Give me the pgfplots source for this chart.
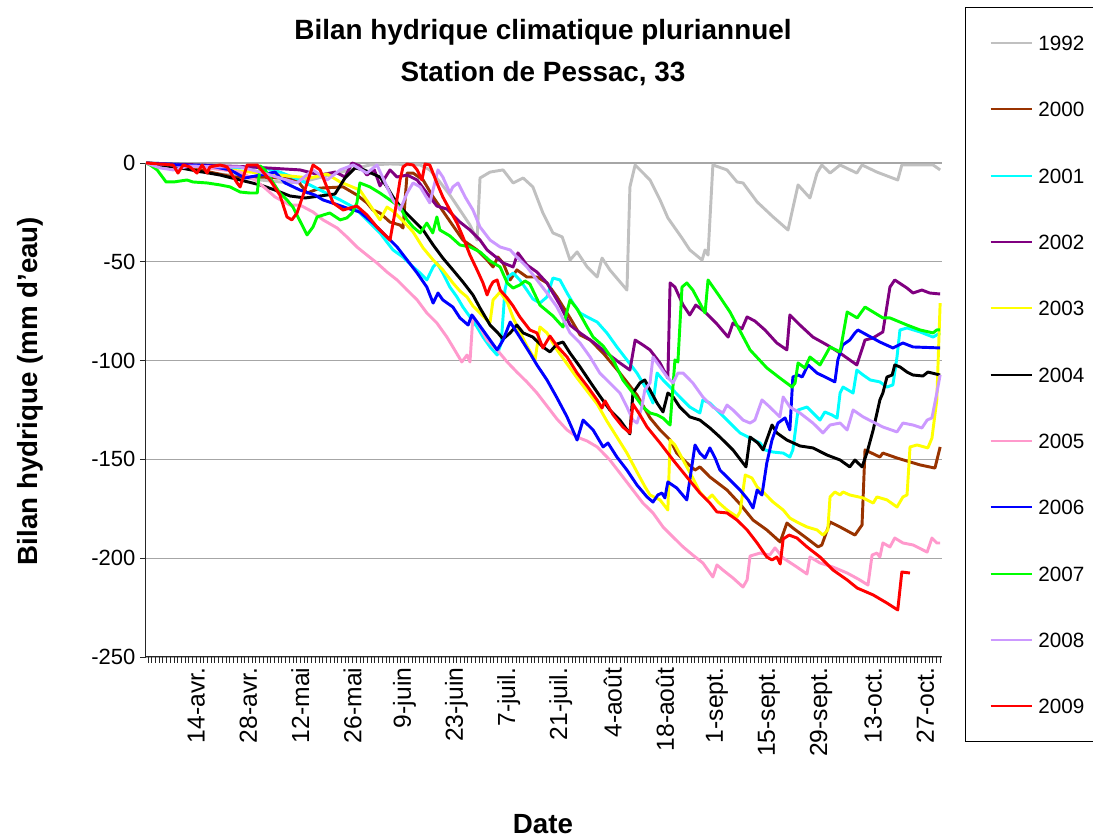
\documentclass[border=0pt]{standalone}
\usepackage{pgfplots}
\pgfplotsset{compat=1.18}
\usepackage{fontspec}
\setmainfont{Liberation Sans}
\definecolor{c1992}{RGB}{192,192,192}
\definecolor{c2000}{RGB}{153,51,0}
\definecolor{c2001}{RGB}{0,255,255}
\definecolor{c2002}{RGB}{128,0,128}
\definecolor{c2003}{RGB}{255,255,0}
\definecolor{c2004}{RGB}{0,0,0}
\definecolor{c2005}{RGB}{255,153,204}
\definecolor{c2006}{RGB}{0,0,255}
\definecolor{c2007}{RGB}{0,255,0}
\definecolor{c2008}{RGB}{204,153,255}
\definecolor{c2009}{RGB}{255,0,0}
\begin{document}
\begin{tikzpicture}
\useasboundingbox (0pt,0pt) rectangle (819.75pt,628.5pt);
\node[anchor=base,font=\bfseries\fontsize{20.9}{24}\selectfont] at (407.25pt,598.5pt) {Bilan hydrique climatique pluriannuel};
\node[anchor=base,font=\bfseries\fontsize{20.9}{24}\selectfont] at (407.25pt,567pt) {Station de Pessac, 33};
\node[rotate=90,font=\bfseries\fontsize{20.8}{24}\selectfont] at (22.5pt,335.25pt) {Bilan hydrique (mm d'eau)};
\node[anchor=base,font=\bfseries\fontsize{20.8}{24}\selectfont] at (407.25pt,3pt) {Date};
\begin{axis}[
  at={(109.5pt,135.75pt)}, anchor=south west,
  width=597pt, height=370.5pt, scale only axis,
  xmin=0.5, xmax=214.5, ymin=-250, ymax=0,
  clip=false,
  axis x line=bottom, axis y line=left,
  axis line style={black!85, line width=0.75pt, -},
  xtick={14,28,42,56,70,84,98,112,126,140,154,168,182,196,210},
  xticklabels={14-avr.,28-avr.,12-mai,26-mai,9-juin,23-juin,7-juil.,21-juil.,4-août,18-août,1-sept.,15-sept.,29-sept.,13-oct.,27-oct.},
  minor xtick={1,2,...,214},
  ytick={-250,-200,-150,-100,-50,0},
  yticklabels={-250,-200,-150,-100,-50,0},
  tick align=outside,
  major tick length=4.5pt, minor tick length=4.5pt,
  tick style={black!85, line width=0.5pt},
  xticklabel style={rotate=90, anchor=east, font=\fontsize{18.5}{20}\selectfont},
  yticklabel style={font=\fontsize{16.5}{18}\selectfont},
  ymajorgrids, grid style={black!35, line width=0.9pt},
  legend style={at={(1.0289,1.3158)}, anchor=north west, draw=black, line width=0.9pt,
    inner xsep=18pt, inner ysep=21pt, font=\fontsize{15.5}{18}\selectfont,
    nodes={inner sep=0pt, text height=11.1pt, text depth=0pt},
    row sep=38.65pt, /tikz/every odd column/.append style={column sep=4pt}},
  legend cell align=left,
  legend image code/.code={\draw[#1, line width=1.5pt] (0pt,0pt) -- (31pt,0pt);},
  every axis plot/.append style={line width=2.2pt, line join=round},
]
\addplot[c1992] coordinates {(0.5,0) (9.7,-2.0) (15.0,-4.6) (23.1,-6.1) (31.2,-8.6) (39.2,-10.1) (44.6,-8.6) (50.0,-6.1) (55.3,-3.5) (60.7,-1.0) (66.1,-0.5) (74.2,-1.0) (76.8,-3.5) (79.5,-9.6) (82.2,-16.2) (84.9,-23.8) (87.6,-31.4) (89.5,-39.0) (90.3,-7.6) (93.0,-4.6) (96.5,-3.5) (99.2,-10.1) (101.9,-7.6) (104.5,-12.1) (107.2,-25.3) (109.9,-35.4) (112.4,-37.4) (114.5,-49.1) (116.4,-45.0) (119.1,-52.6) (121.8,-57.7) (123.1,-48.1) (125.2,-54.1) (129.8,-64.3) (130.6,-12.1) (132.0,-1.0) (136.0,-8.6) (138.7,-18.7) (140.8,-27.8) (144.6,-38.0) (146.7,-44.0) (150.0,-49.1) (150.8,-44.0) (151.6,-46.6) (152.9,-1.0) (156.7,-3.5) (159.4,-9.6) (161.0,-10.1) (164.8,-19.7) (169.1,-27.3) (173.1,-33.9) (175.8,-11.1) (179.0,-17.7) (180.9,-5.1) (182.2,-1.0) (184.4,-5.1) (187.1,-1.0) (191.6,-5.1) (193.0,-1.0) (197.0,-4.6) (202.6,-8.6) (203.7,-1.0) (212.1,-1.0) (214,-3.5)};
\addplot[c2000] coordinates {(0.5,0) (7.0,-1.0) (15.0,-3.5) (23.9,-7.1) (31.2,-7.1) (36.5,-7.6) (41.1,-8.6) (43.8,-15.2) (47.3,-12.7) (53.5,-12.1) (57.2,-16.2) (59.9,-20.2) (61.5,-23.8) (63.4,-25.3) (66.1,-29.9) (68.8,-31.4) (69.6,-32.9) (70.7,-5.1) (72.3,-5.1) (75.0,-8.6) (77.7,-17.2) (81.4,-27.3) (85.7,-39.0) (89.5,-44.0) (92.2,-49.1) (93.8,-52.6) (95.1,-47.6) (96.5,-50.6) (98.4,-59.2) (100.2,-54.1) (102.9,-57.7) (105.6,-57.7) (108.3,-60.7) (111.0,-67.8) (114.5,-78.4) (117.2,-87.0) (119.9,-89.6) (123.4,-96.2) (127.9,-106.3) (132.5,-117.4) (136.0,-129.0) (138.7,-135.1) (141.4,-140.2) (143.2,-146.8) (145.9,-151.8) (148.1,-155.4) (149.4,-153.8) (152.1,-158.9) (156.7,-165.5) (160.2,-172.6) (163.7,-180.7) (167.4,-185.7) (171.0,-191.8) (172.8,-182.2) (174.4,-184.7) (177.7,-189.3) (181.2,-194.3) (182.2,-193.3) (184.4,-181.7) (187.1,-184.2) (191.1,-188.3) (193.0,-183.2) (193.8,-145.2) (197.8,-148.8) (198.6,-146.8) (202.4,-149.3) (208.6,-152.8) (212.6,-154.4) (214,-143.7)};
\addplot[c2001] coordinates {(0.5,0) (15.0,-1.0) (25.8,-2.5) (31.2,-2.0) (36.5,-4.6) (41.9,-8.6) (47.3,-13.7) (52.7,-18.7) (56.7,-22.8) (58.0,-25.3) (60.7,-30.4) (63.4,-35.4) (66.9,-44.0) (69.6,-47.6) (72.3,-52.6) (74.2,-55.7) (76.0,-59.2) (77.7,-52.6) (78.7,-50.6) (80.3,-55.7) (82.2,-62.8) (84.1,-67.8) (85.7,-72.9) (87.6,-77.9) (89.5,-83.0) (91.1,-88.1) (93.0,-93.1) (94.9,-97.2) (96.0,-91.1) (97.0,-64.3) (97.8,-57.7) (99.2,-55.7) (101.0,-59.2) (102.9,-64.3) (104.5,-68.8) (106.4,-70.9) (108.3,-67.8) (109.9,-58.2) (111.8,-59.2) (113.7,-65.8) (115.3,-70.9) (117.2,-75.9) (119.1,-77.9) (121.8,-80.5) (124.4,-86.0) (127.1,-93.1) (129.8,-99.7) (132.5,-106.3) (135.2,-114.9) (136.8,-121.5) (137.9,-106.3) (139.5,-109.8) (141.4,-113.4) (144.0,-118.4) (146.7,-123.5) (149.4,-126.5) (150.2,-119.9) (152.1,-121.5) (154.8,-126.5) (157.5,-131.6) (160.2,-136.6) (162.9,-139.2) (165.6,-141.7) (166.9,-145.2) (169.1,-146.3) (171.8,-146.8) (173.6,-148.8) (174.4,-145.2) (175.8,-125.0) (178.2,-123.5) (179.8,-126.5) (181.7,-130.1) (183.0,-126.0) (184.9,-127.5) (186.3,-129.1) (187.1,-116.4) (187.9,-113.4) (190.6,-116.4) (191.6,-104.8) (193.3,-107.3) (195.2,-109.8) (197.8,-110.8) (199.7,-113.4) (201.3,-112.3) (202.4,-98.2) (203.2,-84.5) (205.1,-83.5) (208.6,-85.5) (212.1,-88.1) (214,-86.0)};
\addplot[c2002] coordinates {(0.5,0) (15.0,-1.0) (28.5,-2.0) (41.9,-3.5) (47.3,-6.1) (51.4,-4.6) (54.0,-7.1) (55.9,0) (58.0,-1.5) (59.9,-6.1) (61.9,-3.5) (63.4,-11.6) (66.1,-3.5) (68.0,-7.1) (70.7,-6.1) (73.4,-8.6) (76.0,-15.2) (78.7,-21.8) (81.4,-23.3) (84.9,-29.9) (87.6,-33.9) (90.3,-39.0) (92.2,-44.0) (94.9,-48.1) (96.5,-50.6) (99.2,-52.6) (100.5,-45.5) (102.9,-51.6) (105.6,-55.2) (108.3,-60.7) (111.8,-71.9) (114.5,-82.0) (117.2,-86.0) (120.7,-90.6) (124.4,-96.2) (127.9,-101.2) (130.6,-104.8) (132.0,-89.6) (134.1,-92.1) (136.0,-94.6) (138.7,-101.2) (140.8,-108.8) (141.4,-60.7) (142.7,-62.8) (144.9,-71.9) (146.7,-76.9) (148.3,-71.9) (150.8,-75.4) (154.0,-81.5) (157.0,-88.1) (158.3,-81.0) (160.7,-84.0) (162.1,-77.9) (164.2,-80.0) (166.9,-84.5) (170.1,-91.1) (172.8,-94.6) (173.6,-76.9) (176.3,-82.0) (179.8,-88.1) (183.6,-92.1) (187.1,-96.2) (191.6,-102.2) (193.8,-89.6) (195.9,-88.6) (198.6,-85.5) (200.5,-62.8) (201.8,-59.2) (205.1,-63.3) (206.7,-65.8) (209.1,-64.3) (211.2,-65.8) (214,-66.3)};
\addplot[c2003] coordinates {(0.5,0) (15.0,-2.0) (28.5,-4.6) (36.5,-6.1) (44.6,-7.6) (49.2,-5.6) (52.7,-9.6) (58.0,-13.7) (63.4,-28.8) (65.3,-22.3) (66.9,-24.3) (69.6,-29.4) (72.3,-34.9) (75.0,-43.0) (77.7,-49.1) (80.3,-54.1) (83.0,-60.7) (84.9,-64.8) (86.8,-67.8) (88.4,-72.4) (90.3,-75.9) (92.2,-79.5) (93.0,-80.5) (93.8,-69.3) (95.7,-65.3) (97.6,-70.3) (99.2,-78.4) (101.0,-85.5) (102.9,-92.6) (105.1,-99.7) (106.4,-83.0) (108.3,-86.0) (111.0,-94.6) (113.7,-101.7) (116.4,-108.8) (119.1,-115.4) (121.8,-122.0) (124.4,-130.6) (127.1,-138.7) (129.8,-146.8) (132.5,-156.4) (134.7,-164.0) (136.0,-168.0) (138.7,-170.5) (140.8,-175.6) (141.4,-140.2) (142.7,-142.7) (144.9,-150.3) (147.5,-159.4) (149.4,-166.5) (151.3,-170.5) (152.7,-168.0) (154.3,-171.6) (156.7,-175.6) (159.4,-179.1) (160.2,-176.6) (161.6,-157.9) (163.4,-159.4) (164.8,-164.0) (166.4,-166.5) (169.1,-171.6) (171.8,-175.6) (173.6,-179.7) (175.5,-181.7) (178.2,-184.2) (180.9,-185.7) (182.5,-188.3) (183.8,-185.7) (184.4,-169.0) (185.7,-166.5) (187.1,-168.0) (187.9,-166.5) (189.7,-168.0) (193.3,-169.5) (196.0,-172.1) (197.0,-169.0) (199.7,-170.5) (202.4,-174.1) (204.0,-169.0) (205.1,-168.0) (205.9,-143.7) (207.8,-142.7) (210.7,-144.2) (211.8,-139.2) (213.1,-119.9) (214,-70.9)};
\addplot[c2004] coordinates {(0.5,0) (9.7,-2.5) (20.4,-6.1) (25.8,-8.6) (31.2,-11.1) (35.2,-13.7) (39.2,-16.7) (43.3,-17.7) (47.3,-16.7) (51.3,-15.7) (54.0,-7.6) (56.7,-2.5) (59.1,-3.5) (63.4,-7.1) (65.3,-12.1) (66.9,-17.2) (69.6,-23.8) (72.3,-28.8) (75.0,-33.9) (77.7,-41.5) (80.3,-48.1) (83.0,-54.1) (85.7,-60.2) (88.4,-66.8) (90.3,-73.4) (93.0,-82.0) (95.1,-86.0) (96.5,-89.1) (98.4,-86.0) (100.2,-82.0) (101.9,-86.0) (104.5,-88.1) (107.2,-93.1) (109.1,-95.6) (111.0,-91.6) (112.6,-90.6) (114.5,-96.2) (117.2,-103.2) (119.9,-110.8) (122.5,-117.9) (125.2,-125.0) (127.9,-130.1) (130.6,-137.1) (131.4,-116.4) (133.3,-111.3) (134.6,-109.8) (136.0,-114.9) (137.9,-121.5) (139.5,-126.0) (140.8,-116.4) (142.2,-118.4) (144.0,-123.5) (146.7,-128.5) (149.4,-130.1) (152.1,-134.1) (154.8,-138.7) (158.3,-145.2) (161.8,-153.8) (162.9,-138.7) (165.0,-141.7) (166.4,-145.2) (168.8,-132.6) (170.1,-136.6) (172.8,-140.2) (176.3,-143.2) (179.8,-144.2) (183.6,-147.8) (187.1,-150.3) (189.7,-153.8) (191.1,-150.3) (193.0,-153.8) (194.3,-146.8) (196.0,-135.1) (197.8,-119.9) (198.6,-116.4) (199.7,-108.3) (201.1,-107.3) (201.8,-102.2) (203.2,-103.2) (205.1,-105.8) (206.7,-107.3) (209.4,-107.8) (210.7,-105.8) (214,-107.3)};
\addplot[c2005] coordinates {(0.5,0) (15.0,-2.0) (25.8,-4.6) (29.8,-8.6) (32.5,-12.7) (35.2,-17.2) (39.2,-21.3) (41.9,-21.3) (45.4,-24.8) (48.1,-28.8) (51.9,-32.9) (54.5,-37.4) (57.2,-42.5) (59.9,-46.6) (62.6,-50.6) (65.3,-55.2) (68.0,-59.2) (70.7,-64.3) (73.4,-69.3) (76.0,-75.9) (78.7,-81.0) (81.4,-88.1) (83.0,-93.1) (85.4,-100.7) (86.8,-97.2) (87.6,-100.7) (88.4,-77.4) (89.5,-80.5) (92.2,-89.6) (94.9,-94.6) (97.6,-100.7) (100.2,-105.8) (102.9,-110.8) (105.6,-116.4) (108.3,-123.0) (111.0,-129.6) (113.7,-135.1) (116.4,-138.7) (119.1,-140.7) (121.8,-143.7) (125.2,-150.3) (127.9,-156.9) (131.4,-165.5) (134.1,-172.1) (136.8,-177.1) (139.5,-184.2) (142.2,-189.3) (144.9,-194.3) (147.5,-198.4) (150.2,-202.4) (152.9,-209.5) (154.0,-203.4) (155.6,-206.0) (158.3,-210.0) (161.0,-214.6) (162.1,-211.0) (162.9,-198.9) (165.6,-197.4) (168.2,-198.4) (169.6,-194.8) (171.8,-199.9) (175.5,-204.5) (178.2,-208.0) (179.0,-199.4) (181.7,-202.4) (185.2,-204.5) (189.0,-207.5) (192.4,-211.0) (194.6,-213.6) (195.7,-198.4) (197.0,-197.4) (197.8,-199.4) (198.6,-192.3) (200.5,-194.3) (201.8,-189.8) (204.0,-192.3) (206.7,-193.3) (210.5,-196.9) (211.8,-189.8) (213.1,-192.3) (214,-192.3)};
\addplot[c2006] coordinates {(0.5,0) (9.7,-1.0) (17.7,-1.5) (23.1,-3.5) (27.1,-7.6) (31.2,-6.1) (35.2,-4.6) (37.9,-10.1) (41.9,-13.7) (45.9,-16.2) (48.1,-18.7) (51.3,-20.7) (54.5,-22.8) (58.0,-24.8) (61.5,-30.4) (65.3,-37.4) (68.0,-42.5) (70.7,-49.1) (73.4,-55.7) (76.0,-62.8) (77.7,-70.9) (79.0,-65.8) (80.3,-69.3) (83.0,-72.9) (84.9,-78.4) (87.1,-82.0) (88.1,-76.9) (90.3,-82.5) (93.0,-89.6) (94.9,-94.6) (96.5,-89.6) (98.4,-80.5) (101.0,-88.1) (103.7,-96.2) (105.6,-102.2) (108.3,-109.8) (111.0,-118.9) (113.7,-128.5) (116.4,-140.2) (118.0,-130.1) (120.7,-135.1) (123.4,-143.7) (124.7,-141.7) (127.1,-148.8) (129.8,-155.4) (132.5,-163.0) (135.2,-169.0) (136.8,-171.6) (138.1,-168.0) (139.2,-167.0) (140.0,-169.5) (140.8,-161.4) (143.2,-164.5) (145.9,-170.5) (146.7,-160.4) (148.1,-142.7) (149.4,-146.8) (150.8,-149.3) (152.1,-144.2) (153.5,-149.3) (154.8,-155.4) (157.5,-160.4) (160.2,-165.5) (162.4,-170.5) (163.7,-174.6) (164.8,-165.5) (166.1,-168.0) (167.4,-151.8) (168.8,-140.2) (170.4,-131.6) (172.3,-129.0) (173.6,-135.1) (174.4,-108.3) (175.8,-107.3) (176.9,-108.3) (178.5,-102.2) (180.9,-106.3) (183.6,-108.8) (185.7,-110.8) (186.5,-99.7) (187.8,-92.1) (189.7,-89.6) (191.1,-86.0) (191.9,-84.5) (194.3,-87.0) (197.8,-90.6) (201.3,-93.6) (204.0,-91.1) (206.7,-93.1) (214,-93.6)};
\addplot[c2007] coordinates {(0.5,0) (1.6,-1.0) (3.5,-3.5) (5.9,-9.6) (8.0,-9.6) (11.5,-8.6) (13.1,-9.6) (16.9,-10.1) (20.4,-11.1) (23.1,-12.1) (25.8,-14.7) (28.5,-15.2) (30.4,-15.2) (31.2,-1.5) (32.5,-3.5) (34.7,-10.1) (36.5,-15.2) (38.4,-18.7) (40.0,-22.3) (43.8,-36.4) (45.4,-32.4) (46.5,-27.3) (49.9,-25.3) (52.7,-28.8) (54.5,-27.8) (55.9,-25.3) (57.2,-20.2) (58.0,-10.1) (60.7,-12.1) (63.4,-15.2) (66.1,-18.7) (68.8,-22.3) (70.7,-28.8) (72.3,-32.4) (74.2,-35.4) (76.0,-30.4) (77.6,-35.4) (78.7,-27.3) (79.5,-33.9) (82.2,-36.9) (84.9,-41.5) (87.6,-42.5) (90.3,-45.0) (93.0,-49.6) (95.7,-52.6) (97.6,-60.7) (99.2,-63.3) (101.0,-61.7) (102.4,-59.7) (103.7,-61.2) (106.4,-71.9) (109.9,-77.4) (112.6,-83.0) (114.5,-69.3) (116.4,-73.9) (119.1,-83.0) (120.7,-88.1) (123.4,-92.6) (126.1,-99.7) (128.7,-109.8) (131.4,-116.4) (134.1,-123.5) (136.0,-126.5) (137.9,-127.5) (139.5,-129.1) (141.4,-132.6) (142.7,-99.7) (143.5,-100.7) (144.6,-62.8) (145.9,-60.7) (147.5,-64.3) (150.8,-75.9) (151.6,-59.2) (154.8,-67.8) (157.5,-75.4) (160.2,-85.0) (162.9,-94.6) (167.4,-103.7) (170.9,-108.8) (174.2,-113.4) (175.0,-111.3) (175.8,-101.2) (177.6,-103.7) (179.0,-98.2) (181.7,-102.2) (184.4,-93.1) (187.1,-95.6) (189.0,-75.4) (191.7,-78.4) (193.8,-72.9) (198.6,-78.4) (200.5,-78.4) (205.1,-82.0) (208.6,-84.5) (212.1,-86.0) (213.1,-84.5) (214,-84.5)};
\addplot[c2008] coordinates {(0.5,0) (4.3,-2.5) (7.8,-3.5) (12.3,-1.5) (19.6,-2.0) (25.8,-2.0) (31.2,-4.6) (36.5,-7.6) (41.1,-10.1) (45.4,-3.5) (49.2,-8.6) (52.7,-3.5) (56.2,-1.0) (59.9,-5.1) (62.6,-1.0) (65.3,-12.1) (66.9,-18.7) (68.8,-23.8) (70.7,-15.2) (72.3,-10.1) (74.2,-12.1) (76.8,-20.2) (79.0,-3.5) (80.3,-7.1) (82.2,-15.2) (83.0,-12.1) (84.4,-10.1) (86.3,-17.2) (88.4,-23.8) (90.3,-32.4) (93.0,-39.0) (95.7,-42.5) (98.4,-44.0) (100.2,-47.6) (102.9,-52.6) (105.6,-59.2) (108.3,-65.8) (111.0,-72.9) (114.5,-86.0) (117.2,-91.1) (119.9,-98.2) (122.5,-106.3) (125.2,-111.3) (127.9,-116.4) (129.8,-123.5) (131.4,-130.1) (132.5,-131.6) (133.8,-123.5) (134.6,-114.9) (136.0,-111.3) (136.8,-98.2) (138.7,-103.2) (140.6,-108.3) (142.2,-111.3) (143.5,-106.3) (144.9,-106.3) (147.5,-111.3) (150.2,-118.4) (152.9,-123.5) (155.6,-126.5) (156.7,-122.5) (158.3,-125.0) (161.0,-130.1) (162.9,-131.6) (164.2,-130.1) (166.1,-119.9) (168.2,-123.5) (170.9,-128.5) (171.8,-118.4) (173.6,-123.5) (176.3,-126.5) (179.8,-131.6) (182.5,-136.6) (184.4,-132.6) (187.1,-131.6) (189.0,-135.1) (190.6,-125.0) (193.3,-128.5) (196.0,-131.1) (198.6,-133.6) (202.4,-136.1) (204.0,-131.6) (206.7,-132.6) (209.1,-134.1) (210.5,-130.1) (211.8,-129.0) (213.1,-116.4) (214,-107.3)};
\addplot[c2009] coordinates {(0.5,0) (7.8,-1.0) (9.1,-5.1) (10.5,-1.0) (12.3,-2.0) (14.2,-5.1) (15.6,-1.0) (16.9,-5.1) (17.7,-2.0) (20.4,-1.0) (22.3,-2.0) (25.0,-10.1) (25.8,-12.1) (27.7,-1.0) (30.4,-1.0) (33.8,-8.6) (36.5,-16.2) (38.4,-27.3) (39.7,-28.8) (41.1,-25.3) (43.2,-13.7) (45.4,-1.0) (47.3,-3.5) (50.8,-20.2) (53.5,-23.8) (56.2,-22.3) (57.2,-21.8) (59.9,-26.3) (62.6,-32.4) (66.1,-39.0) (67.4,-25.3) (68.8,-8.6) (69.6,-2.0) (70.7,-0.5) (72.3,-1.0) (73.4,-3.5) (74.7,-8.6) (75.5,-0.5) (76.8,-1.0) (78.7,-10.1) (80.3,-17.2) (82.2,-23.8) (84.1,-30.4) (85.7,-37.4) (87.6,-46.6) (89.5,-54.1) (91.1,-60.7) (92.2,-66.8) (93.0,-62.8) (93.8,-60.2) (94.9,-59.2) (95.7,-64.3) (97.6,-68.3) (99.2,-72.4) (101.0,-77.9) (103.7,-84.5) (105.6,-86.0) (107.2,-93.6) (109.1,-87.6) (111.0,-92.6) (113.7,-98.2) (116.4,-106.3) (119.1,-112.9) (121.8,-120.0) (123.1,-124.0) (123.9,-120.4) (126.1,-127.5) (128.7,-133.6) (130.6,-136.6) (131.4,-122.0) (133.3,-127.5) (135.2,-133.6) (138.7,-141.7) (142.2,-150.3) (145.9,-158.9) (149.4,-167.0) (152.1,-172.1) (154.0,-176.6) (156.7,-177.1) (159.4,-180.7) (162.1,-185.7) (164.8,-192.3) (167.4,-199.4) (168.8,-200.9) (170.1,-199.4) (171.0,-202.9) (171.8,-190.3) (173.4,-188.3) (175.5,-189.8) (178.2,-194.3) (181.7,-199.4) (185.2,-206.0) (189.0,-211.0) (191.7,-215.1) (196.0,-218.6) (199.7,-222.7) (202.6,-226.2) (203.7,-207.0) (205.9,-207.5)};
\legend{\makebox[60pt][l]{1992},2000,2001,2002,2003,2004,2005,2006,2007,2008,2009}
\end{axis}
\end{tikzpicture}
\end{document}
